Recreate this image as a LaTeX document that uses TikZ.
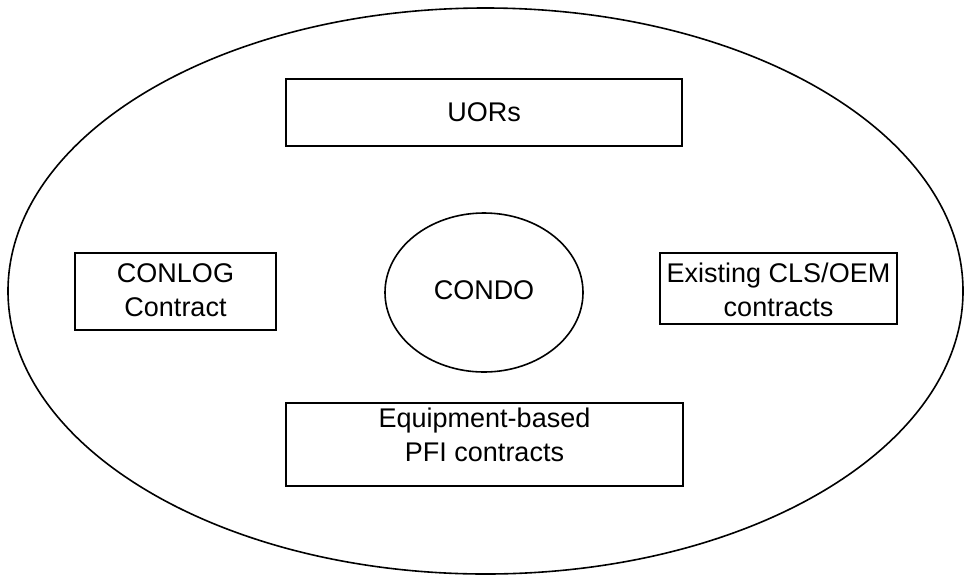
\documentclass[tikz,border=0pt]{standalone}
\usepackage{fontspec}
\setmainfont{Liberation Sans}
\usetikzlibrary{shapes.geometric}
\begin{document}
\begin{tikzpicture}[x=1pt,y=-1pt,
  outline/.style={draw,line width=1.6pt,inner sep=0pt,outer sep=0pt},
  lbl/.style={font=\fontsize{27}{34}\selectfont,align=center}]
\useasboundingbox (0,0) rectangle (968,579);
\node[outline,ellipse,minimum width=955pt,minimum height=566pt] (outer) at (485.5,291) {};
\node[outline,ellipse,minimum width=198pt,minimum height=159pt] (condoshape) at (484,292.5) {};
\node[lbl] (condo) at (484,290) {CONDO};
\node[outline,rectangle,minimum width=396pt,minimum height=67pt] (uorsbox) at (484,112.5) {};
\node[lbl] (uors) at (484,112) {UORs};
\node[outline,rectangle,minimum width=201pt,minimum height=77pt] (conlogbox) at (175.5,291.5) {};
\node[lbl] (conlog) at (175.5,290) {CONLOG\\Contract};
\node[outline,rectangle,minimum width=237pt,minimum height=71pt] (clsbox) at (778.5,288.5) {};
\node[lbl] (cls) at (778.5,290) {Existing CLS/OEM\\contracts};
\node[outline,rectangle,minimum width=397pt,minimum height=83pt] (pfibox) at (484.5,444.5) {};
\node[lbl] (pfi) at (484.5,435) {Equipment-based\\PFI contracts};
\end{tikzpicture}
\end{document}
